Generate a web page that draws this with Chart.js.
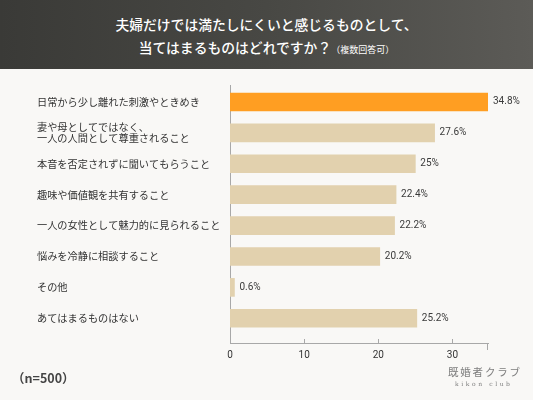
<!DOCTYPE html>
<html lang="ja">
<head>
<meta charset="utf-8">
<script src="https://cdn.jsdelivr.net/npm/chart.js@4.4.0/dist/chart.umd.min.js"></script>
<style>
  html, body { margin: 0; padding: 0; }
  body {
    width: 533px; height: 400px; overflow: hidden; position: relative;
    background: #f9f8f6;
    font-family: "Noto Sans CJK JP", sans-serif;
  }
  #header {
    position: absolute; left: 0; top: 0; width: 533px; height: 69px;
    background: linear-gradient(90deg, #3a3a37 0%, #484844 50%, #5c5b57 100%);
    color: #fff;
  }
  #header .line { position: absolute; left: 0; right: 0; text-align: center; font-size: 13.8px; font-weight: 500; line-height: 20px; }
  #header .l1 { top: 14px; }
  #header .l2 { top: 37px; }
  #header small { font-size: 9px; font-weight: 400; }
  #chartBox { position: absolute; left: 0; top: 69px; width: 533px; height: 331px; }
  #sample { position: absolute; left: 12px; top: 368px; font-size: 12.5px; font-weight: 700; color: #444; line-height: 20px; }
  #logo { position: absolute; left: 448px; top: 364px; color: #7e7e7e; }
  #logo .jp { font-size: 10.5px; font-weight: 400; letter-spacing: 1.8px; line-height: 16px; }
  #logo .en { font-family: "DejaVu Serif", serif; font-size: 6px; letter-spacing: 2.6px; line-height: 8px; margin-left: 7px; }
</style>
</head>
<body>
<div id="header">
  <div class="line l1">夫婦だけでは満たしにくいと感じるものとして、</div>
  <div class="line l2">当てはまるものはどれですか？<small>（複数回答可）</small></div>
</div>
<div id="chartBox"><canvas id="chart"></canvas></div>
<div id="sample">（n=500）</div>
<div id="logo"><div class="jp">既婚者クラブ</div><div class="en">kikon club</div></div>
<script>
// answers, top to bottom
const labels = [
  ['日常から少し離れた刺激やときめき'],
  ['妻や母としてではなく、', '一人の人間として尊重されること'],
  ['本音を否定されずに聞いてもらうこと'],
  ['趣味や価値観を共有すること'],
  ['一人の女性として魅力的に見られること'],
  ['悩みを冷静に相談すること'],
  ['その他'],
  ['あてはまるものはない']
];
const values = [34.8, 27.6, 25, 22.4, 22.2, 20.2, 0.6, 25.2];
const xTicks = [0, 10, 20, 30];

const orange = '#ff9e22';
const beige = '#e2d1ae';
const axisGray = '#a8a8a8';
const barColors = values.map((v, i) => i === 0 ? orange : beige);

// percentage text at the end of each bar
const valueLabels = {
  id: 'valueLabels',
  afterDatasetsDraw(chart) {
    const ctx = chart.ctx;
    const meta = chart.getDatasetMeta(0);
    ctx.save();
    ctx.font = '10px Roboto';
    ctx.fillStyle = '#3a3a3a';
    ctx.textAlign = 'left';
    ctx.textBaseline = 'middle';
    meta.data.forEach((bar, i) => {
      ctx.fillText(values[i] + '%', bar.x + 5, bar.y);
    });
    ctx.restore();
  }
};

// small tick marks: inward at 10/20/30, outward at the axis end
const tickMarks = {
  id: 'tickMarks',
  afterDraw(chart) {
    const ctx = chart.ctx;
    const xs = chart.scales.x;
    const y0 = xs.top;
    ctx.save();
    ctx.strokeStyle = axisGray;
    ctx.lineWidth = 1;
    ctx.beginPath();
    xTicks.slice(1).forEach(v => {
      const px = Math.round(xs.getPixelForValue(v)) + 0.5;
      ctx.moveTo(px, y0);
      ctx.lineTo(px, y0 - 4);
    });
    const pe = Math.round(xs.getPixelForValue(xs.max)) - 0.5;
    ctx.moveTo(pe, y0);
    ctx.lineTo(pe, y0 + 7);
    ctx.stroke();
    ctx.restore();
  }
};

new Chart(document.getElementById('chart'), {
  type: 'bar',
  data: {
    datasets: [{
      data: values.map((v, i) => ({ x: v, y: i })),
      backgroundColor: barColors,
      borderWidth: 0,
      barThickness: 18
    }]
  },
  options: {
    indexAxis: 'y',
    responsive: true,
    maintainAspectRatio: false,
    animation: false,
    layout: { padding: { left: 37, right: 45, top: 16, bottom: 37 } },
    plugins: {
      legend: { display: false },
      tooltip: { enabled: false }
    },
    scales: {
      x: {
        type: 'linear',
        min: 0,
        max: 34.8,
        afterBuildTicks: s => { s.ticks = xTicks.concat([34.8]).map(v => ({ value: v })); },
        afterFit: s => { s.height = 20; },
        grid: { display: false },
        border: { display: true, color: axisGray, width: 1 },
        ticks: {
          padding: -2,
          color: '#333',
          font: { family: 'Roboto', size: 10 },
          maxRotation: 0,
          callback: v => xTicks.includes(v) ? String(v) : ''
        }
      },
      y: {
        type: 'linear',
        reverse: true,
        offset: false,
        min: -0.55,
        max: 7.8,
        afterBuildTicks: s => { s.ticks = labels.map((l, i) => ({ value: i })); },
        afterFit: s => { s.width = 193; },
        grid: { display: false },
        border: { display: true, color: axisGray, width: 1 },
        ticks: {
          autoSkip: false,
          crossAlign: 'far',
          color: '#333',
          font: { family: '"Noto Sans CJK JP"', size: 10.2, lineHeight: 1.1 },
          callback: v => labels[v]
        }
      }
    }
  },
  plugins: [valueLabels, tickMarks]
});
</script>
</body>
</html>
